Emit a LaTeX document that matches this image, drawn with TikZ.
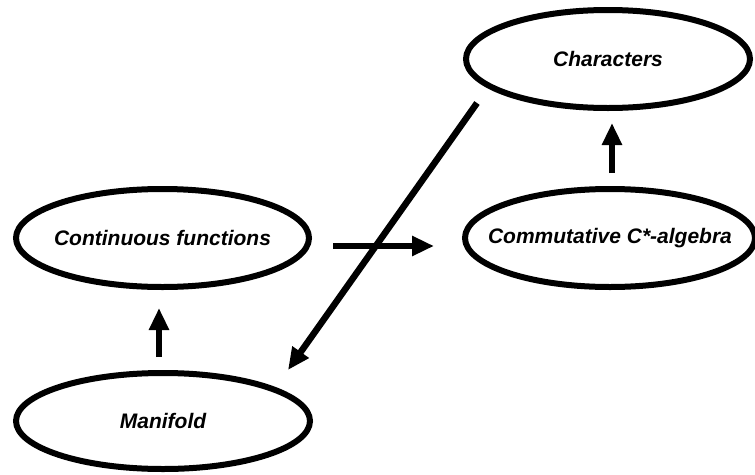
\documentclass[tikz,border=0pt]{standalone}
\usepackage{fontspec}
\setmainfont{Liberation Sans}
\usetikzlibrary{arrows.meta}
\begin{document}
\begin{tikzpicture}[x=1pt,y=-1pt,
  label/.style={inner sep=0pt, font=\fontsize{21}{24}\selectfont\bfseries\itshape},
  ovalline/.style={draw=black, line width=6pt},
  conn/.style={line width=6.5pt, -{Triangle[width=19pt,length=22pt]}}]
\useasboundingbox (0,0) rectangle (755,474);
\node[label] (char) at (608,59) {Characters};
\node[label] (comm) at (610,238) {Commutative C*-algebra};
\node[label] (cont) at (162.5,238) {Continuous functions};
\node[label] (mani) at (163,421) {Manifold};
\draw[ovalline] (char.center) ellipse [x radius=142pt, y radius=49pt];
\draw[ovalline] (comm.center) ellipse [x radius=145pt, y radius=49pt];
\draw[ovalline] (cont.center) ellipse [x radius=146.5pt, y radius=49pt];
\draw[ovalline] (mani.center) ellipse [x radius=147pt, y radius=48pt];
\coordinate (a1) at (333,246);
\coordinate (a2) at (434,246);
\draw[conn] (a1) -- (a2);
\coordinate (b1) at (612,173);
\coordinate (b2) at (612,123);
\draw[conn] (b1) -- (b2);
\coordinate (c1) at (159,357);
\coordinate (c2) at (159,308);
\draw[conn] (c1) -- (c2);
\coordinate (d1) at (477,103);
\coordinate (d2) at (288,370);
\draw[conn] (d1) -- (d2);
\end{tikzpicture}
\end{document}
